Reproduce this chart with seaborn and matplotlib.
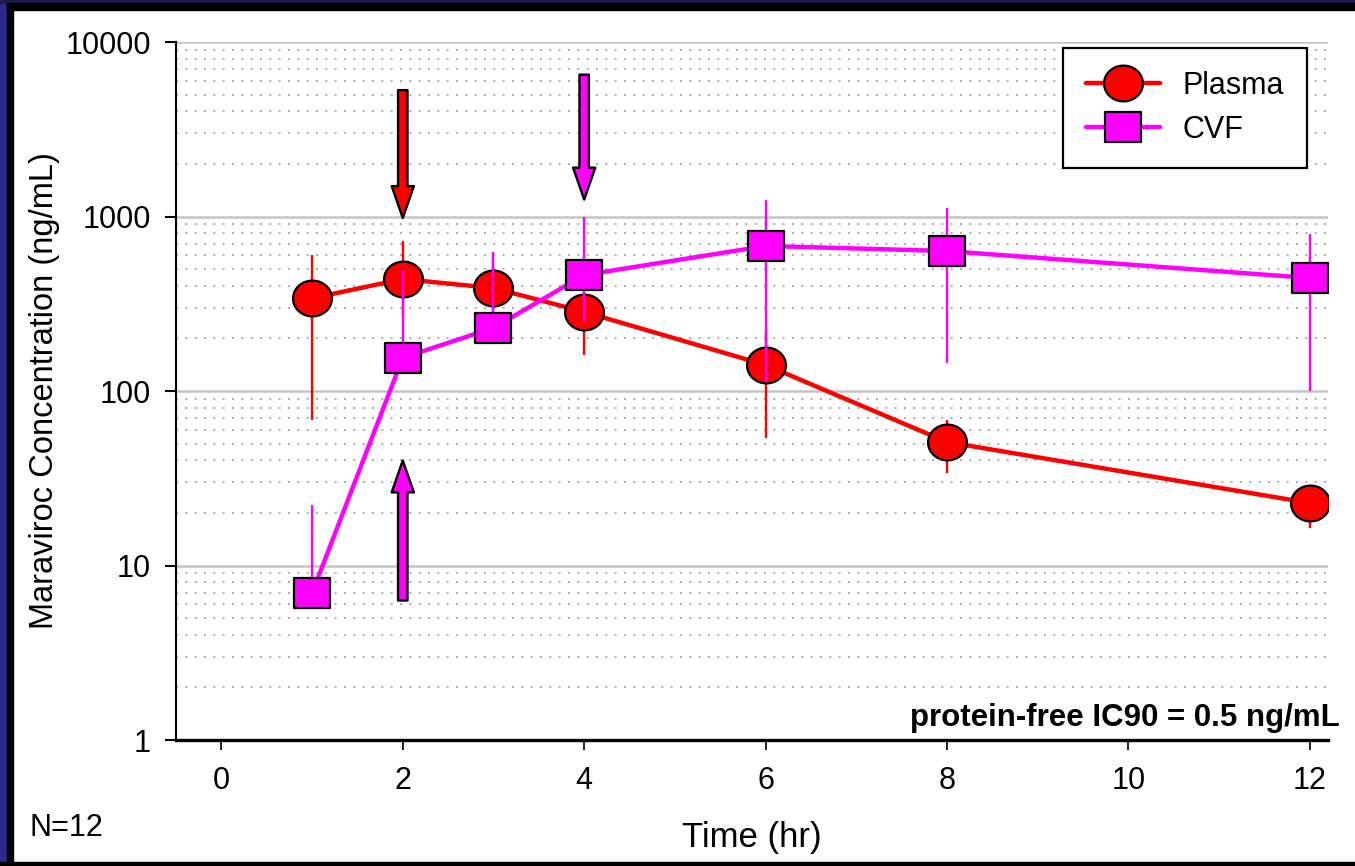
import numpy as np
import pandas as pd
import matplotlib
matplotlib.use("Agg")
import matplotlib.pyplot as plt
import seaborn as sns
from matplotlib.path import Path
from matplotlib.patches import Rectangle
from matplotlib.ticker import FixedLocator, LogLocator, NullFormatter

# ---------------- data ----------------
time_hr = [1, 2, 3, 4, 6, 8, 12]
plasma = [340, 438, 389, 284, 141, 51, 22.8]
plasma_hi = [600, 724, 560, 420, 220, 68, 29]
plasma_lo = [68, 270, 280, 161, 54, 34, 16.5]
cvf = [6.95, 155, 230, 462, 678, 634, 444]
cvf_hi = [22.2, 494, 626, 1000, 1245, 1119, 794]
cvf_lo = [6.0, 130, 200, 250, 113, 145, 100]

y_ticks = [1, 10, 100, 1000, 10000]
y_ticklabels = ["1", "10", "100", "1000", "10000"]
x_ticks = [0, 2, 4, 6, 8, 10, 12]
x_ticklabels = ["0", "2", "4", "6", "8", "10", "12"]

# arrows: (x, tail value, tip value, colour)
arrow_x = [2, 4, 2]
arrow_tail = [5300, 6500, 6.3]
arrow_tip = [980, 1250, 40]
arrow_color = ["#ff0000", "#ff00ff", "#ff00ff"]

RED = "#ff0000"
MAG = "#ff00ff"

# ---------------- style ----------------
sns.set_style("white")
plt.rcParams["font.family"] = ["Liberation Sans", "DejaVu Sans"]
for k in ["text.color", "axes.labelcolor", "xtick.color", "ytick.color"]:
    plt.rcParams[k] = "black"

W, H = 1355, 866
fig = plt.figure(figsize=(W / 100, H / 100), dpi=100)
fig.patch.set_facecolor("white")
ax = fig.add_axes([176 / W, 1 - 740 / H, (1328 - 176) / W, (740 - 42) / H])

# custom markers
th = np.linspace(0, 2 * np.pi, 65)
ellipse = Path(np.column_stack([np.cos(th), 0.92 * np.sin(th)]), closed=True)
sq = Path([(-1, -0.86), (1, -0.86), (1, 0.86), (-1, 0.86), (-1, -0.86)],
          [Path.MOVETO, Path.LINETO, Path.LINETO, Path.LINETO, Path.CLOSEPOLY])

df_p = pd.DataFrame({"t": time_hr, "c": plasma})
df_c = pd.DataFrame({"t": time_hr, "c": cvf})

ax.vlines(time_hr, plasma_lo, plasma_hi, color=RED, lw=1.7, zorder=3)
sns.lineplot(data=df_p, x="t", y="c", ax=ax, color=RED, lw=3.2, marker=ellipse,
             markersize=28, markerfacecolor=RED, markeredgecolor="black",
             markeredgewidth=1.6, label="Plasma", zorder=4, errorbar=None)
ax.vlines(time_hr, cvf_lo, cvf_hi, color=MAG, lw=1.7, zorder=5)
sns.lineplot(data=df_c, x="t", y="c", ax=ax, color=MAG, lw=3.2, marker=sq,
             markersize=25.5, markerfacecolor=MAG, markeredgecolor="black",
             markeredgewidth=1.6, label="CVF", zorder=6, errorbar=None)

# arrows
for xa, t0, t1, col in zip(arrow_x, arrow_tail, arrow_tip, arrow_color):
    ax.annotate("", xy=(xa, t1), xytext=(xa, t0),
                arrowprops=dict(arrowstyle="simple,head_length=1.15,head_width=0.8,tail_width=0.34",
                                fc=col, ec="black", lw=1.7, shrinkA=0, shrinkB=0,
                                mutation_scale=20),
                zorder=7)

ax.set_yscale("log")
ax.set_ylim(1, 10000)
ax.set_xlim(-0.5, 12.2)

ax.yaxis.set_major_locator(FixedLocator(y_ticks))
ax.set_yticklabels(y_ticklabels)
ax.yaxis.set_minor_locator(LogLocator(base=10, subs=np.arange(2, 10)))
ax.yaxis.set_minor_formatter(NullFormatter())
ax.set_xticks(x_ticks)
ax.set_xticklabels(x_ticklabels)

ax.grid(False)
ax.yaxis.grid(True, which="major", color="#c4c4c4", lw=1.8, zorder=0)
ax.yaxis.grid(True, which="minor", color="#aaaaaa", lw=1.4,
              linestyle=(0, (1, 3.8)), zorder=0)
ax.set_axisbelow(True)

for s in ["top", "right"]:
    ax.spines[s].set_visible(False)
ax.spines["left"].set_color("black")
ax.spines["left"].set_linewidth(1.5)
ax.spines["bottom"].set_color("black")
ax.spines["bottom"].set_linewidth(2.4)

ax.tick_params(axis="y", which="major", direction="out", length=8, width=1.5,
               color="black", pad=10, labelsize=22, left=True)
ax.tick_params(axis="y", which="minor", length=0)
ax.tick_params(axis="x", which="major", direction="out", length=7, width=1.2,
               color="black", pad=12, labelsize=22, bottom=True)
ax.set_xlabel("")
ax.set_ylabel("")

leg = ax.legend(loc="upper right", bbox_to_anchor=(1307 / W, 1 - 48 / H),
                bbox_transform=fig.transFigure, fontsize=22, frameon=True,
                fancybox=False, shadow=False, framealpha=1, edgecolor="black",
                handlelength=2.4, handletextpad=0.75, labelspacing=0.45,
                borderpad=0.75, borderaxespad=0)
leg.get_frame().set_linewidth(1.6)

fig.text(45 / W, 1 - 391 / H, "Maraviroc Concentration (ng/mL)", rotation=90,
         ha="center", va="center", fontsize=23.5)
fig.text(752 / W, 1 - 837 / H, "Time (hr)", ha="center", va="center", fontsize=25)
fig.text(30 / W, 1 - 828 / H, "N=12", ha="left", va="center", fontsize=22)
fig.text(1340 / W, 1 - 718 / H, "protein-free IC90 = 0.5 ng/mL", ha="right",
         va="center", fontsize=22.5, fontweight="bold")

# frame border
for (x0, y0, w, h, c) in [(0, 0, 7, H, "#2b2b8c"), (7, 0, 6, H, "black"),
                          (0, 0, W, 3, "#1b1b4f"), (7, 3, W, 7, "black"),
                          (0, H - 4, W, 4, "black")]:
    fig.patches.append(Rectangle((x0 / W, 1 - (y0 + h) / H), w / W, h / H,
                                 transform=fig.transFigure, color=c, zorder=10))

fig.savefig("out.png", dpi=100)
